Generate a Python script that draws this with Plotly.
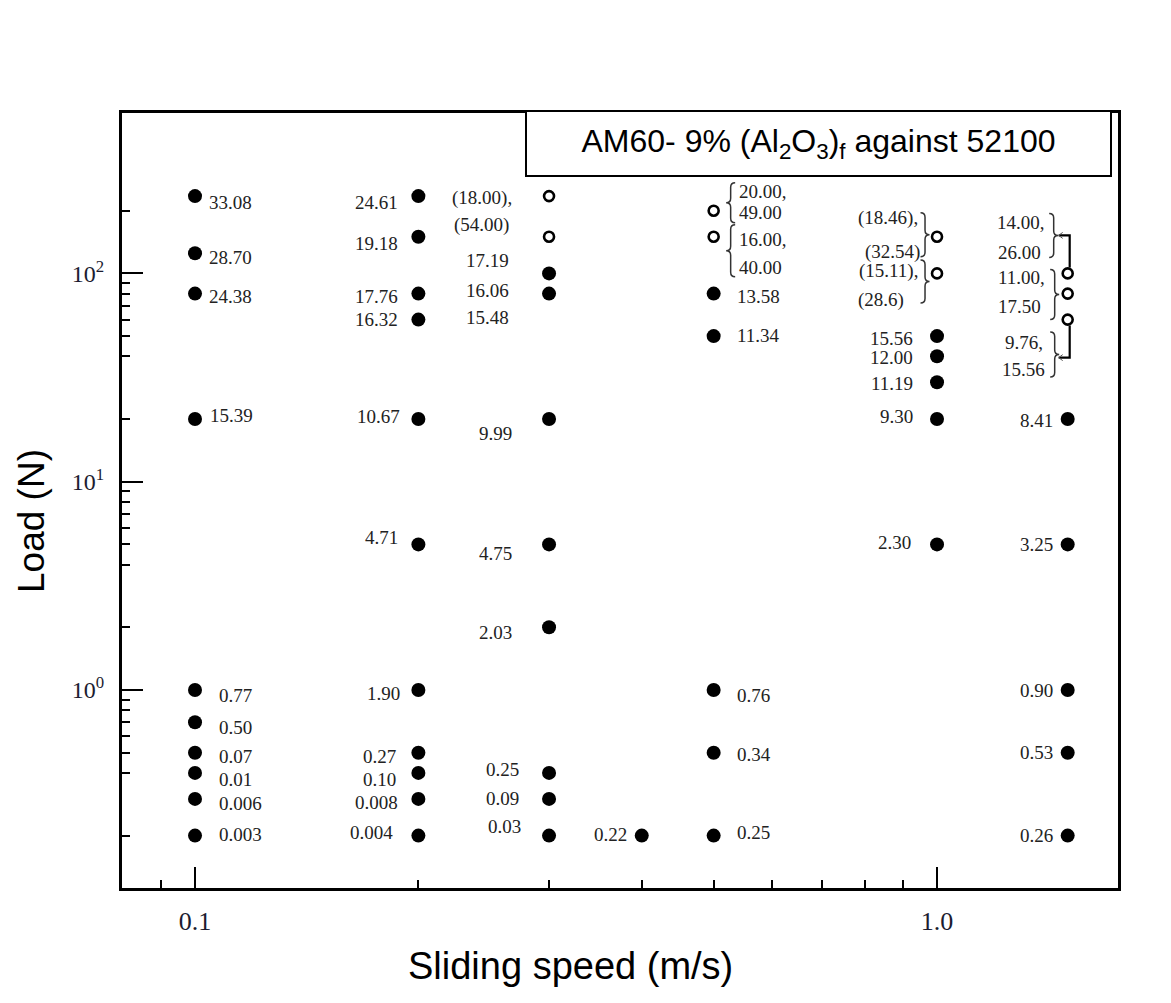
import math
import plotly.graph_objects as go

# ---------------- data ----------------
# filled circles: sliding speed (m/s), load (N), printed value
filled_speed = [0.1, 0.1, 0.1, 0.1, 0.1, 0.1, 0.1, 0.1, 0.1, 0.1,
                0.2, 0.2, 0.2, 0.2, 0.2, 0.2, 0.2, 0.2, 0.2, 0.2, 0.2,
                0.3, 0.3, 0.3, 0.3, 0.3, 0.3, 0.3, 0.3,
                0.4,
                0.5, 0.5, 0.5, 0.5, 0.5,
                1.0, 1.0, 1.0, 1.0, 1.0,
                1.5, 1.5, 1.5, 1.5, 1.5]
filled_load = [235, 125, 80, 20, 1, 0.7, 0.5, 0.4, 0.3, 0.2,
               235, 150, 80, 60, 20, 5, 1, 0.5, 0.4, 0.3, 0.2,
               100, 80, 20, 5, 2, 0.4, 0.3, 0.2,
               0.2,
               80, 50, 1, 0.5, 0.2,
               50, 40, 30, 20, 5,
               20, 5, 1, 0.5, 0.2]
filled_label = ["33.08", "28.70", "24.38", "15.39", "0.77", "0.50", "0.07", "0.01", "0.006", "0.003",
                "24.61", "19.18", "17.76", "16.32", "10.67", "4.71", "1.90", "0.27", "0.10", "0.008", "0.004",
                "17.19", "16.06", "9.99", "4.75", "2.03", "0.25", "0.09", "0.03",
                "0.22",
                "13.58", "11.34", "0.76", "0.34", "0.25",
                "15.56", "12.00", "11.19", "9.30", "2.30",
                "8.41", "3.25", "0.90", "0.53", "0.26"]

# label printed without a marker
extra_speed = [0.3]
extra_load = [60]
extra_label = ["15.48"]

# open circles
open_speed = [0.3, 0.3, 0.5, 0.5, 1.0, 1.0, 1.5, 1.5, 1.5]
open_load = [235, 150, 200, 150, 150, 100, 100, 80, 60]
open_label_top = ["(18.00),", "(54.00)", "20.00,", "16.00,", "(18.46),", "(15.11),", "14.00,", "11.00,", "9.76,"]
open_label_bottom = ["", "", "49.00", "40.00", "(32.54)", "(28.6)", "26.00", "17.50", "15.56"]

x_tick_vals = [0.1, 1.0]
x_tick_text = ["0.1", "1.0"]
x_minor_vals = [0.09, 0.2, 0.3, 0.4, 0.5, 0.6, 0.7, 0.8, 0.9]
y_tick_vals = [1, 10, 100]
y_tick_text = ["10<sup>0</sup>", "10<sup>1</sup>", "10<sup>2</sup>"]
y_minor_vals = [0.2, 0.4, 0.5, 0.6, 0.7, 0.8, 0.9,
                2, 4, 5, 6, 7, 8, 9,
                20, 40, 50, 60, 70, 80, 90, 200]

# ---------------- label placement (pixel offsets, style only) ----------------
filled_dx = [12, 12, 12, 13, 22, 22, 22, 22, 22, 22,
             -18, -18, -18, -18, -16, -18, -16, -20, -20, -18, -23,
             -38, -38, -35, -35, -35, -28, -28, -26,
             -13,
             21, 21, 21, 21, 21,
             -22, -22, -22, -22, -24,
             -13, -13, -13, -13, -13]
filled_dy = [-6, -4, -3, 3, -5, -5, -4, -7, -5, 1,
             -6, -7, -3, 0, 2, 7, -3, -4, -7, -4, 3,
             13, 3, -15, -9, -5, 3, 0, 9,
             1,
             -3, 1, -5, -2, 3,
             -2, -1, -1, 2, 2,
             -2, 0, 0, 0, 0]
extra_dx = [-38]
extra_dy = [2]
open_top_dx = [-35, -38, 23, 23, -17, -17, -21, -21, -23]
open_top_dy = [-2, 12, 19, -3, 19, 2, 51, 16, -23]
open_bot_dx = [0, 0, 23, 23, -15, -31, -25, -25, -21]
open_bot_dy = [0, 0, -2, -31, -15, -27, 21, -13, -50]

# braces: (index of open circle, direction, centre dx, centre dy, height)
braces = [(2, "{", 17, 8, 40), (3, "{", 17, -14, 52),
          (4, "}", -12, 2, 44), (5, "}", -12, -8, 43),
          (6, "}", -14, 38, 44), (7, "}", -13, -1, 50), (8, "}", -13, -35, 45)]

SERIF = "Liberation Serif, Times New Roman, serif"
SANS = "Liberation Sans, Arial, sans-serif"
LABEL_FONT = dict(family=SERIF, size=19, color="#222222")

fig = go.Figure()
fig.add_trace(go.Scatter(x=filled_speed, y=filled_load, mode="markers",
                         marker=dict(symbol="circle", size=14, color="black"),
                         showlegend=False, hoverinfo="skip"))
fig.add_trace(go.Scatter(x=open_speed, y=open_load, mode="markers",
                         marker=dict(symbol="circle-open", size=10, color="black",
                                     line=dict(width=2.6, color="black")),
                         showlegend=False, hoverinfo="skip"))

annotations = []


def add_label(sx, ly, text, dx, dy):
    if not text:
        return
    annotations.append(dict(x=math.log10(sx), y=math.log10(ly), xref="x", yref="y",
                            text=text, showarrow=False,
                            xanchor="left" if dx > 0 else "right", yanchor="middle",
                            xshift=dx, yshift=dy, font=LABEL_FONT))


for sx, ly, t, dx, dy in zip(filled_speed, filled_load, filled_label, filled_dx, filled_dy):
    add_label(sx, ly, t, dx, dy)
for sx, ly, t, dx, dy in zip(extra_speed, extra_load, extra_label, extra_dx, extra_dy):
    add_label(sx, ly, t, dx, dy)
for sx, ly, t, dx, dy in zip(open_speed, open_load, open_label_top, open_top_dx, open_top_dy):
    add_label(sx, ly, t, dx, dy)
for sx, ly, t, dx, dy in zip(open_speed, open_load, open_label_bottom, open_bot_dx, open_bot_dy):
    add_label(sx, ly, t, dx, dy)

# title box
annotations.append(dict(xref="paper", yref="paper", x=0.6993, y=0.9606,
                        xanchor="center", yanchor="middle", showarrow=False,
                        text="AM60- 9% (Al<sub>2</sub>O<sub>3</sub>)<sub>f</sub> against 52100",
                        font=dict(family=SANS, size=32, color="black"),
                        bgcolor="white", bordercolor="black", borderwidth=2, borderpad=0,
                        width=583, height=63))
# axis titles
annotations.append(dict(xref="paper", yref="paper", x=-0.0914, y=0.4735,
                        xanchor="center", yanchor="middle", showarrow=False, textangle=-90,
                        text="Load (N)", font=dict(family=SANS, size=37, color="black")))
annotations.append(dict(xref="paper", yref="paper", x=0.4498, y=-0.1006,
                        xanchor="center", yanchor="middle", showarrow=False,
                        text="Sliding speed (m/s)", font=dict(family=SANS, size=38, color="black")))

shapes = []


def brace_path(direction, cx, cy, h, w=9):
    a = h / 2.0
    s = -1 if direction == "}" else 1
    e = s * w / 2.0
    r = w / 2.0
    return (f"M {cx + e},{cy + a} Q {cx},{cy + a} {cx},{cy + a - r} "
            f"L {cx},{cy + r} Q {cx},{cy} {cx - e},{cy} "
            f"Q {cx},{cy} {cx},{cy - r} L {cx},{cy - a + r} "
            f"Q {cx},{cy - a} {cx + e},{cy - a}")


for idx, d, cx, cy, h in braces:
    shapes.append(dict(type="path", xref="x", yref="y", xsizemode="pixel", ysizemode="pixel",
                       xanchor=open_speed[idx], yanchor=open_load[idx],
                       path=brace_path(d, cx, cy, h), line=dict(color="#333333", width=1.5)))

# connector lines at 1.5 m/s (upper from circle idx 6, lower from circle idx 8)
for idx, sgn in [(6, 1), (8, -1)]:
    yy = 38 * sgn
    shapes.append(dict(type="path", xref="x", yref="y", xsizemode="pixel", ysizemode="pixel",
                       xanchor=open_speed[idx], yanchor=open_load[idx],
                       path=f"M 2,{6 * sgn} L 2,{yy} L -9,{yy}",
                       line=dict(color="black", width=2.2)))
    shapes.append(dict(type="path", xref="x", yref="y", xsizemode="pixel", ysizemode="pixel",
                       xanchor=open_speed[idx], yanchor=open_load[idx],
                       path=f"M -5,{yy + 3} L -9,{yy} L -5,{yy - 3}",
                       line=dict(color="#555555", width=1)))

axis_common = dict(type="log", showline=True, linewidth=3, linecolor="black", mirror=True,
                   ticks="inside", ticklen=21, tickwidth=2, tickcolor="black",
                   showgrid=False, zeroline=False, tickmode="array")

fig.update_layout(
    width=1155, height=987, autosize=False,
    margin=dict(l=114, r=45, t=105, b=107),
    paper_bgcolor="white", plot_bgcolor="white",
    xaxis=dict(**axis_common, range=[-1.0984, 0.2439],
               tickvals=x_tick_vals, ticktext=x_tick_text,
               tickfont=dict(family=SERIF, size=26, color="#1c1c30"),
               ticklabelstandoff=8,
               minor=dict(tickmode="array", tickvals=x_minor_vals, ticks="inside",
                          ticklen=8, tickwidth=2, tickcolor="black", showgrid=False)),
    yaxis=dict(**axis_common, range=[-0.9505, 2.770],
               tickvals=y_tick_vals, ticktext=y_tick_text,
               tickfont=dict(family=SERIF, size=24, color="#1c1c30"),
               ticklabelstandoff=10,
               minor=dict(tickmode="array", tickvals=y_minor_vals, ticks="inside",
                          ticklen=8, tickwidth=2, tickcolor="black", showgrid=False)),
    annotations=annotations,
    shapes=shapes,
)

fig.write_html("out.html")
